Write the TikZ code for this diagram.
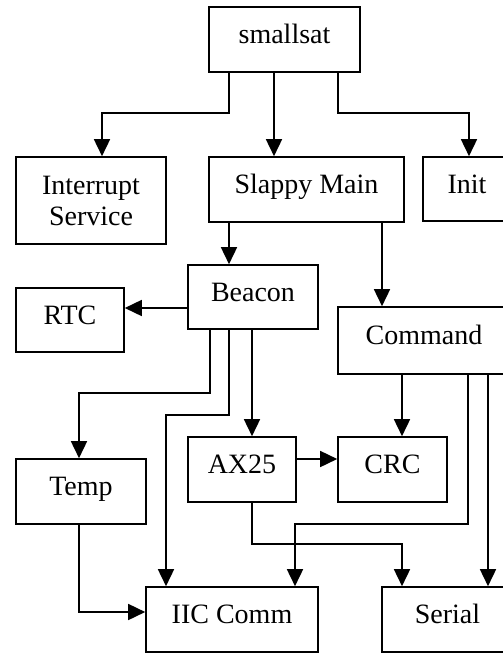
\documentclass[tikz,border=0pt]{standalone}
\usepackage{fontspec}
\setmainfont{Liberation Serif}
\usepackage{tikz}
\usetikzlibrary{arrows.meta}

\tikzset{
  box/.style={draw,line width=1.6pt,fill=white,inner sep=0pt,
    text height=20pt,text depth=12pt,font=\fontsize{28}{31}\selectfont},
  link/.style={line width=1.6pt,-{Triangle[length=17pt,width=16pt]}}
}

\begin{document}
\begin{tikzpicture}[x=1pt,y=-1pt]
    \useasboundingbox (0,0) rectangle (503,653);
    \clip (0,0) rectangle (503,653);
    \fill[white] (0,0) rectangle (503,653);
    % modules
    \node[box,minimum width=151pt,minimum height=65pt] (smallsat) at (284.5,39.5) {smallsat};
    \node[box,minimum width=150pt,minimum height=87pt,align=center,text height=,text depth=] (isr) at (91,200.5) {Interrupt\\Service};
    \node[box,minimum width=195pt,minimum height=65pt] (main) at (306.5,189.5) {Slappy Main};
    \node[box,minimum width=88pt,minimum height=64pt] (init) at (467,189) {Init};
    \node[box,minimum width=130pt,minimum height=64pt] (beacon) at (253,297) {Beacon};
    \node[box,minimum width=108pt,minimum height=64pt] (rtc) at (70,320) {RTC};
    \node[box,minimum width=172pt,minimum height=67pt] (command) at (424,340.5) {Command};
    \node[box,minimum width=108pt,minimum height=65pt] (ax25) at (242,469.5) {AX25};
    \node[box,minimum width=109pt,minimum height=65pt] (crc) at (392.5,469.5) {CRC};
    \node[box,minimum width=130pt,minimum height=65pt] (temp) at (81,491.5) {Temp};
    \node[box,minimum width=172pt,minimum height=65pt] (iic) at (232,619.5) {IIC Comm};
    \node[box,minimum width=131pt,minimum height=65pt] (serial) at (447.5,619.5) {Serial};
    % calls
    \draw[link] (smallsat.south -| 229,0) |- (102,113) -- (isr.north -| 102,0);
    \draw[link] (smallsat.south -| 274,0) -- (main.north -| 274,0);
    \draw[link] (smallsat.south -| 338,0) |- (469,113) -- (init.north -| 469,0);
    \draw[link] (main.south -| 229,0) -- (beacon.north -| 229,0);
    \draw[link] (main.south -| 382,0) -- (command.north -| 382,0);
    \draw[link] (beacon.west |- 0,308) -- (rtc.east |- 0,308);
    \draw[link] (beacon.south -| 210,0) |- (79,393) -- (temp.north -| 79,0);
    \draw[link] (beacon.south -| 229,0) |- (166,415) -- (iic.north -| 166,0);
    \draw[link] (beacon.south -| 252,0) -- (ax25.north -| 252,0);
    \draw[link] (command.south -| 402,0) -- (crc.north -| 402,0);
    \draw[link] (command.south -| 468,0) |- (295,524) -- (iic.north -| 295,0);
    \draw[link] (command.south -| 488,0) -- (serial.north -| 488,0);
    \draw[link] (ax25.east |- 0,459) -- (crc.west |- 0,459);
    \draw[link] (ax25.south -| 252,0) |- (402,544) -- (serial.north -| 402,0);
    \draw[link] (temp.south -| 79,0) |- (iic.west |- 0,612);
\end{tikzpicture}
\end{document}
